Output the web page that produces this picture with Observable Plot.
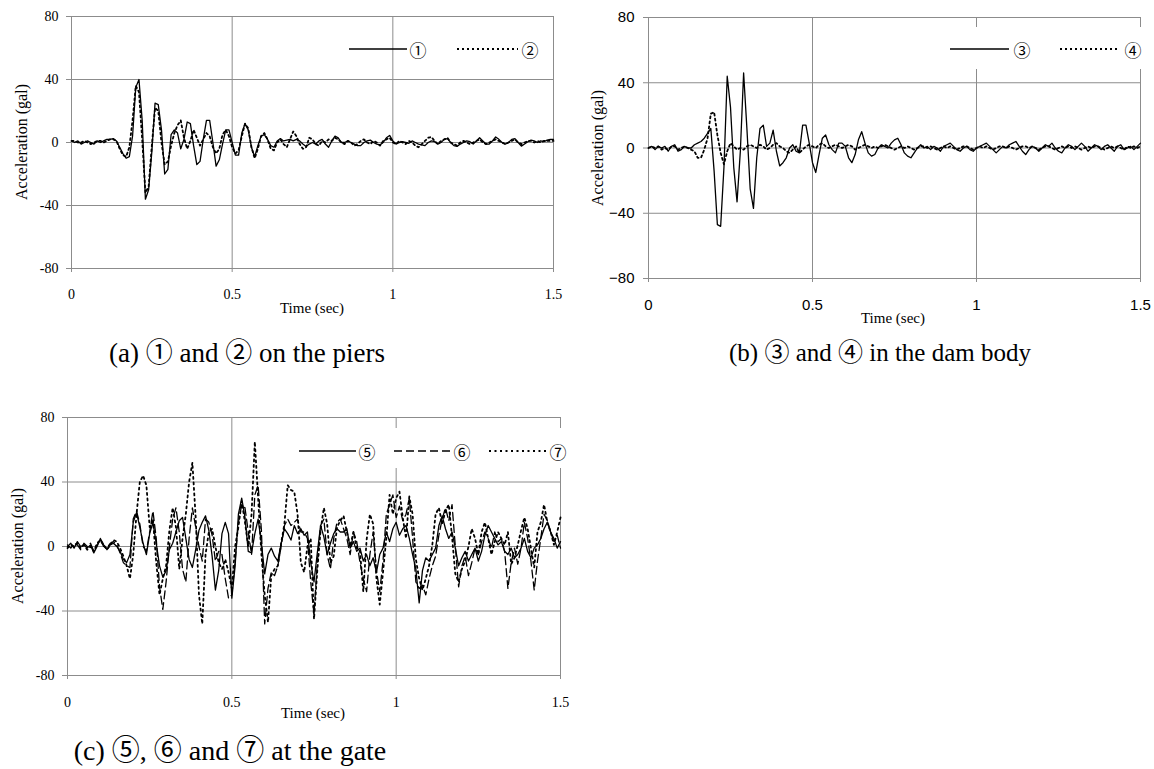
<!DOCTYPE html>
<html>
<head>
<meta charset="utf-8">
<script src="https://cdn.jsdelivr.net/npm/d3@7"></script>
<script src="https://cdn.jsdelivr.net/npm/@observablehq/plot@0.6"></script>
<style>
  body { margin: 0; background: #fff; }
  #root { position: relative; width: 1154px; height: 769px; overflow: hidden; background: #fff;
          font-family: "Liberation Serif", "Tinos", "Nimbus Roman", "DejaVu Serif", "Noto Sans CJK JP", serif; color: #000; }
  .panel { position: absolute; }
  .ytitle { position: absolute; font-size: 16px; white-space: nowrap; transform: translate(-50%, -50%) rotate(-90deg); }
  .xtitle { position: absolute; font-size: 15px; white-space: nowrap; transform: translate(-50%, -50%); }
  .caption { position: absolute; font-size: 24px; white-space: nowrap; transform: translate(-50%, -50%); }
  #overlay { position: absolute; left: 0; top: 0; pointer-events: none; }
</style>
</head>
<body>
<div id="root"></div>
<script>
// ---------------- data (sampled every 0.01 s, 0 .. 1.5 s) ----------------
const dt = 0.01;
const xTicks = [0, 0.5, 1, 1.5];
const yTicks = [-80, -40, 0, 40, 80];

// (a) piers
const seriesA1 = [
  1,0,1,-1,0,1,0,-1,1,0,
  1,2,2,2.5,1,-3,-7,-10,-9,4,
  35,40,14,-36,-30,-6,25,24,8,-20,
  -17,5,8,6,-4,2,13,12,-2,-14,
  -12,2,14,14,0,-15,-11,-1,8,8,
  0,-8,-8,6,12,8,-3,-9,-2,4,
  5,2,-2,-3,1,2.5,1,1.5,2,1,
  2,1,-1,-2.5,-1,0,-1,1,2,-1,
  -3,1,4,3,0,0,1,0,-1,-2,
  -2,0,1,1.5,0,-1,-1.5,0,3,4.5,
  1,-1,0,0.5,0,-0.5,1,0,-1,-1.5,
  -2,0,1,0.5,-1,0,2,2.5,0,-2,
  -2.5,-1,0,1,0.5,-1,1,3,1,-1,
  -1,1,3.5,2,0,-1,0,2,2.5,0,
  -2.3,-1,0.5,1.5,1,0,1,0.5,1.5,2,
  2
];
const seriesA2 = [
  1,1,0,0,1,0,-1,0,1,1,
  0,1,2,2,1,-4,-8,-9,-3,14,
  36,32,2,-32,-28,-2,22,20,0,-14,
  -12,-2,6,11,14,3,-4,1,8,3,
  -2,2,6,4,-3,-7,-4,5,8,4,
  -3,-7,-5,4,12,9,-3,-10,-4,4,
  6,2,-4,-5,0,2,-1,-3,2,7,
  4,-1,-4,-3,3,2,-1,-2,1,0,
  2,1,3,2,0,-1,1,0,-2,-1,
  1,2,0,-1,1,0,-2,1,2,3,
  0,-1,1,0,-1,1,0,-2,-3,-1,
  1,3,3.5,1,-1,1,2,3,0,-1,
  -2,0,1,0,-1,0,1,2,0,-1,
  0,1,2,1,0,-1,0,1,2,0,
  -1,0,1,1,0,1,0,1,1,1,
  1
];

// (b) dam body
const seriesB3 = [
  0,1,-1,1,0,1,-2,1,2,-2,
  -1,1,0,0,2,3,4,6,9,12,
  -14,-47,-48,-12,44,25,-12,-33,-2,46,
  12,-25,-37,-6,12,14,1,3,11,-2,
  -11,-9,-6,0,2,-2,-3,14,14,3,
  -9,-15,-4,6,8,2,-1,-3,3,3,
  1,-6,-9,-4,5,10,3,-3,-5,-4,
  0,2,1,0,3,5,6,2,-3,-5,
  -6,-3,0,2,0,1,-1,1,0,-2,
  1,2,3,1,-1,-2,0,1,-1,-2,
  0,1,2,3,1,-1,-3,-1,1,0,
  2,3,4,1,-2,-4,-1,1,0,-2,
  0,2,1,3,0,-2,-3,0,2,1,
  -1,1,3,1,-2,0,2,1,-1,1,
  2,0,-2,1,2,-1,0,1,-1,1,
  3
];
const seriesB4 = [
  0,1,0,1,-1,0,-1,1,1,-1,
  0,1,0,-1,-2,-6,-6,-1,6,21,
  22,8,-3,-10,-2,3,1,-1,0,-1,
  1,2,1,0,2,1,-1,0,2,3,
  1,0,-2,-3,-1,1,-3,-1,1,2,
  1,0,2,3,1,0,1,2,1,0,
  1,2,1,-1,0,1,2,1,0,1,
  0,1,2,1,0,-1,0,1,0,1,
  0,-1,0,1,1,0,1,0,-1,0,
  1,0,1,0,-1,0,1,1,0,-1,
  0,1,0,1,0,-1,0,1,1,0,
  1,0,-1,0,1,1,0,1,0,-1,
  0,1,1,0,-1,0,1,0,1,0,
  1,0,-1,0,1,0,1,1,0,-1,
  0,1,0,1,0,-1,1,0,1,0,
  1
];

// (c) gate
const seriesC5 = [
  0,2,-1,3,0,1,-1,1,-4,0,
  5,1,-2,1,2,0,-3,-8,-10,-5,
  15,21,12,2,-5,8,15,2,-12,-19,
  -15,-2,2,9,16,18,5,-8,-13,-2,
  10,15,19,10,-6,-27,-15,8,15,8,
  -32,-12,20,30,18,-3,-4,8,17,2,
  -17,-5,-1,-6,-9,2,11,8,4,13,
  8,11,7,9,-10,-22,-4,13,6,-5,
  2,8,11,9,9,11,-1,3,-3,-1,
  -9,-5,-12,-7,-16,-5,-1,9,3,11,
  15,7,11,13,5,-5,-14,-35,-15,-7,
  -9,-5,-1,13,19,11,5,9,-1,-12,
  -7,-3,-9,-5,-1,-9,-3,7,13,9,
  5,1,3,-3,-5,-1,-7,-5,-1,5,
  -3,-7,-1,1,5,11,15,9,5,-1,
  3
];
const seriesC6 = [
  1,-1,2,1,-2,2,0,2,-3,1,
  4,0,-1,2,3,1,-4,-10,-12,-13,
  17,22,14,0,-3,9,22,5,-25,-39,
  -22,0,17,24,9,-14,-22,5,24,12,
  0,-9,17,15,7,-9,-3,-5,-20,-32,
  -30,-9,15,26,24,9,-5,32,38,10,
  -48,-26,-16,-18,-12,0,13,17,13,15,
  17,9,9,5,-22,-42,-10,13,17,-5,
  -14,5,15,17,11,5,-5,9,3,-10,
  -20,-28,-5,9,-15,-28,-9,20,26,32,
  18,25,16,20,30,5,-22,-26,-24,-30,
  -20,-12,-6,7,17,24,16,26,0,-25,
  -12,-6,-18,-10,-1,-5,3,9,5,-1,
  9,3,5,-3,-26,-10,-1,-11,-1,15,
  5,-9,-27,-9,5,20,16,9,3,7,
  -1
];
const seriesC7 = [
  -1,1,0,2,-1,1,-2,0,-3,2,
  4,1,-2,1,4,3,-1,-6,-12,-20,
  -5,20,40,44,38,12,17,-10,-30,-20,
  -12,10,24,12,-14,5,20,40,52,18,
  -30,-48,-5,9,11,0,-10,-14,-8,-16,
  -26,0,12,28,15,0,20,65,30,-5,
  -30,-47,-18,-14,-12,2,14,38,35,34,
  20,-10,-16,0,5,-45,-15,10,24,14,
  -10,-6,12,16,19,9,0,9,-1,-3,
  -28,4,20,14,-20,-36,-16,5,32,20,
  30,34,18,5,31,20,-8,-20,-27,-20,
  -12,1,20,24,14,22,26,6,-17,-22,
  -14,-9,0,11,5,-5,9,15,5,-5,
  3,9,5,1,9,-11,-7,1,10,18,
  11,-1,-13,9,15,26,15,9,1,9,
  18
];

// ---------------- helpers ----------------
const toRows = (values) => values.map((v, i) => ({ t: +(i * dt).toFixed(2), v }));
const GRID = "#8c8c8c";
const root = document.getElementById("root");
const serif = "'Liberation Serif', Tinos, 'Nimbus Roman', 'DejaVu Serif', serif";
const sans = "'Liberation Sans', Arimo, Arial, sans-serif";
const DOT = "2,3";
const DOT_C = "2,3.5";

function makePanel(cfg) {
  const marks = [
    Plot.gridX({ ticks: xTicks, stroke: GRID, strokeOpacity: 1, strokeWidth: 1 }),
    Plot.gridY({ ticks: yTicks, stroke: GRID, strokeOpacity: 1, strokeWidth: 1 }),
    Plot.axisX({ ticks: xTicks, tickSize: 4, tickPadding: cfg.xPad, stroke: GRID, fill: "#000",
                 tickFormat: (d) => String(d), label: null,
                 fontFamily: cfg.tickFont, fontSize: cfg.tickSizePx }),
    Plot.axisY({ ticks: yTicks, tickSize: 5, tickPadding: cfg.yPad, stroke: GRID, fill: "#000",
                 tickFormat: cfg.yFormat, label: null,
                 fontFamily: cfg.tickFont, fontSize: cfg.tickSizePx })
  ];
  for (const s of cfg.series) {
    marks.push(Plot.line(toRows(s.values), {
      x: "t", y: "v", stroke: "#000", strokeWidth: s.width,
      strokeDasharray: s.dash, strokeLinejoin: "round", curve: "linear"
    }));
  }
  const svg = Plot.plot({
    width: cfg.width, height: cfg.height,
    marginLeft: cfg.ml, marginRight: cfg.mr, marginTop: cfg.mt, marginBottom: cfg.mb,
    x: { domain: [0, 1.5] },
    y: { domain: [-80, 80] },
    style: { background: "transparent", overflow: "visible", fontFamily: cfg.tickFont, fontSize: cfg.tickSizePx + "px" },
    marks
  });
  const wrap = document.createElement("div");
  wrap.className = "panel";
  wrap.style.left = cfg.left + "px";
  wrap.style.top = cfg.top + "px";
  wrap.appendChild(svg);
  root.appendChild(wrap);
}

const hyphenFmt = (d) => String(d);
const minusFmt = (d) => (d < 0 ? "\u2212" + (-d) : String(d));

makePanel({
  left: 0, top: 0, width: 580, height: 300, ml: 71, mr: 27, mt: 16, mb: 32,
  xPad: 17, yPad: 8, tickFont: serif, tickSizePx: 14, yFormat: hyphenFmt,
  series: [
    { values: seriesA1, width: 1.3, dash: null },
    { values: seriesA2, width: 1.8, dash: DOT }
  ]
});
makePanel({
  left: 580, top: 0, width: 574, height: 320, ml: 68, mr: 14, mt: 17, mb: 42,
  xPad: 17, yPad: 9, tickFont: sans, tickSizePx: 15, yFormat: minusFmt,
  series: [
    { values: seriesB3, width: 1.3, dash: null },
    { values: seriesB4, width: 1.8, dash: DOT }
  ]
});
makePanel({
  left: 0, top: 400, width: 580, height: 320, ml: 67, mr: 20, mt: 17, mb: 45,
  xPad: 18, yPad: 8, tickFont: serif, tickSizePx: 14, yFormat: hyphenFmt,
  series: [
    { values: seriesC5, width: 1.3, dash: null },
    { values: seriesC6, width: 1.3, dash: "8,4" },
    { values: seriesC7, width: 1.8, dash: DOT_C }
  ]
});

// ---------------- titles & captions ----------------
function addText(cls, text, x, y, size) {
  const d = document.createElement("div");
  d.className = cls;
  d.textContent = text;
  d.style.left = x + "px";
  d.style.top = y + "px";
  if (size) d.style.fontSize = size + "px";
  root.appendChild(d);
}
addText("ytitle", "Acceleration (gal)", 22, 142);
addText("xtitle", "Time (sec)", 312, 308);
addText("ytitle", "Acceleration (gal)", 598, 148);
addText("xtitle", "Time (sec)", 893, 318);
addText("ytitle", "Acceleration (gal)", 18, 546);
addText("xtitle", "Time (sec)", 313, 713);
addText("caption", "(a) \u2460 and \u2461 on the piers", 247, 350, 27);
addText("caption", "(b) \u2462 and \u2463 in the dam body", 880, 350, 25);
addText("caption", "(c) \u2464, \u2465 and \u2466 at the gate", 230, 748, 28);

// ---------------- legends ----------------
const legends = [
  { box: null, items: [
      { x1: 349, x2: 407, y: 49, dash: null, w: 1.3, label: "\u2460", lx: 418 },
      { x1: 457, x2: 518, y: 49, dash: DOT, w: 1.8, label: "\u2461", lx: 530 } ] },
  { box: [943, 27, 211, 42], items: [
      { x1: 950, x2: 1009, y: 49, dash: null, w: 1.3, label: "\u2462", lx: 1022 },
      { x1: 1060, x2: 1117, y: 49, dash: DOT, w: 1.8, label: "\u2463", lx: 1133 } ] },
  { box: [292, 428, 285, 40], items: [
      { x1: 299, x2: 356, y: 451, dash: null, w: 1.3, label: "\u2464", lx: 367 },
      { x1: 394, x2: 451, y: 451, dash: "8,4", w: 1.3, label: "\u2465", lx: 462 },
      { x1: 489, x2: 546, y: 451, dash: DOT_C, w: 1.8, label: "\u2466", lx: 558 } ] }
];
const ov = d3.select(root).append("svg").attr("id", "overlay").attr("width", 1154).attr("height", 769);
for (const lg of legends) {
  if (lg.box) ov.append("rect").attr("x", lg.box[0]).attr("y", lg.box[1]).attr("width", lg.box[2]).attr("height", lg.box[3]).attr("fill", "#fff");
  for (const it of lg.items) {
    ov.append("line").attr("x1", it.x1).attr("x2", it.x2).attr("y1", it.y).attr("y2", it.y)
      .attr("stroke", "#000").attr("stroke-width", it.w).attr("stroke-dasharray", it.dash);
    ov.append("text").attr("x", it.lx).attr("y", it.y).attr("text-anchor", "middle")
      .attr("dominant-baseline", "central").attr("font-family", "'Noto Sans CJK JP', 'DejaVu Sans', sans-serif")
      .attr("font-size", 17).text(it.label);
  }
}
</script>
</body>
</html>
